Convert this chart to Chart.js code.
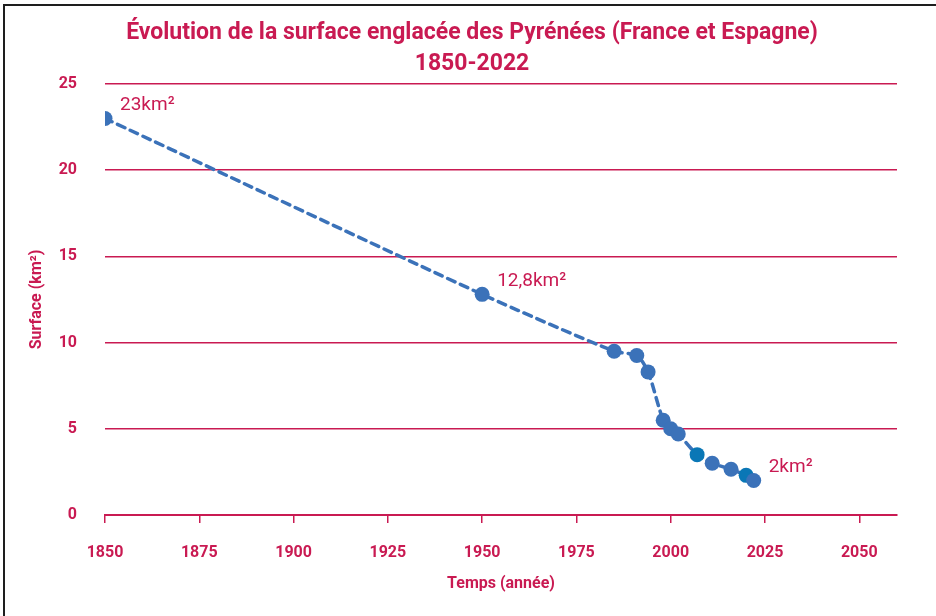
<!DOCTYPE html>
<html>
<head>
<meta charset="utf-8">
<script src="https://cdn.jsdelivr.net/npm/chart.js@4"></script>
<style>
  body { margin: 0; background: #fff; }
  #wrap { position: relative; width: 936px; height: 616px; }
  #frame { position: absolute; left: 3px; top: 4px; right: 0; bottom: 0;
           border-top: 2px solid #1e1e1e; border-left: 2px solid #1e1e1e; }
  canvas { position: absolute; left: 0; top: 0; }
</style>
</head>
<body>
<div id="wrap">
  <div id="frame"></div>
  <canvas id="glacierChart" width="936" height="616"></canvas>
</div>
<script>
// surface englacée (km²) par année
const years = [1850, 1950, 1985, 1991, 1994, 1998, 2000, 2002, 2007, 2011, 2016, 2020, 2022];
const surface = [23, 12.8, 9.5, 9.25, 8.3, 5.5, 5.0, 4.7, 3.5, 3.0, 2.65, 2.3, 2.0];
const pointLabels = ['23km²', '12,8km²', '', '', '', '', '', '', '', '', '', '', '2km²'];
const highlightYears = [2007, 2020];
const xTicks = [1850, 1875, 1900, 1925, 1950, 1975, 2000, 2025, 2050];
const yTicks = [0, 5, 10, 15, 20, 25];
const titleLines = ['Évolution de la surface englacée des Pyrénées (France et Espagne)', '1850-2022'];

const crimson = '#c91a52';
const blue = '#3b72b9';
const teal = '#0a77b6';
const bold = 'Roboto, sans-serif';

// two-line title drawn on top of the canvas
const titlePlugin = {
  id: 'twoLineTitle',
  afterDraw(chart) {
    const { ctx } = chart;
    ctx.save();
    ctx.fillStyle = crimson;
    ctx.font = "bold 23px " + bold;
    ctx.textAlign = 'center';
    ctx.textBaseline = 'alphabetic';
    const cx = chart.width / 2 + 4;
    titleLines.forEach((line, i) => ctx.fillText(line, cx, 39 + i * 31));
    ctx.restore();
  }
};

const labelPlugin = {
  id: 'pointLabels',
  afterDatasetsDraw(chart) {
    const { ctx, scales } = chart;
    ctx.save();
    ctx.fillStyle = crimson;
    ctx.font = "19px Roboto, sans-serif";
    ctx.textBaseline = 'middle';
    years.forEach((yr, i) => {
      if (!pointLabels[i]) return;
      const px = scales.x.getPixelForValue(yr);
      const py = scales.y.getPixelForValue(surface[i]);
      ctx.fillText(pointLabels[i], px + 15, py - 13);
    });
    ctx.restore();
  }
};

const ctx = document.getElementById('glacierChart').getContext('2d');
new Chart(ctx, {
  type: 'line',
  data: {
    datasets: [{
      data: years.map((yr, i) => ({ x: yr, y: surface[i] })),
      borderColor: blue,
      borderWidth: 3.5,
      borderDash: [8, 6],
      borderCapStyle: 'round',
      tension: 0.25,
      pointRadius: 7.5,
      pointHoverRadius: 7.5,
      pointBorderWidth: 0,
      pointBackgroundColor: c => highlightYears.includes(years[c.dataIndex]) ? teal : blue,
    }]
  },
  options: {
    responsive: false,
    animation: false,
    layout: { padding: { left: 27, right: 39, top: 84, bottom: 22 } },
    plugins: {
      legend: { display: false },
      tooltip: { enabled: false },
      title: { display: false }
    },
    scales: {
      x: {
        type: 'linear',
        min: 1850,
        max: 2060,
        afterBuildTicks: axis => { axis.ticks = xTicks.map(v => ({ value: v })); },
        afterFit: axis => { axis.height = 79; },
        grid: { drawOnChartArea: false, drawTicks: true, tickLength: 8, color: crimson, lineWidth: 1.5 },
        border: { color: crimson, width: 2 },
        ticks: { color: crimson, font: { family: bold, size: 16, weight: 'bold' }, padding: 20, maxRotation: 0,
                 callback: v => String(v) },
        title: { display: true, text: 'Temps (année)', color: crimson,
                 font: { family: bold, size: 16, weight: 'bold' }, padding: { top: 0, bottom: 0 } }
      },
      y: {
        min: 0,
        max: 25,
        afterBuildTicks: axis => { axis.ticks = yTicks.map(v => ({ value: v })); },
        afterFit: axis => { axis.width = 78; },
        grid: { color: crimson, lineWidth: 1.5, drawTicks: false },
        border: { display: false },
        ticks: { color: crimson, font: { family: bold, size: 16, weight: 'bold' }, padding: 28,
                 callback: v => String(v) },
        title: { display: true, text: 'Surface (km²)', color: crimson,
                 font: { family: bold, size: 16, weight: 'bold' }, padding: { top: 0, bottom: 0 } }
      }
    }
  },
  plugins: [labelPlugin, titlePlugin]
});
</script>
</body>
</html>
